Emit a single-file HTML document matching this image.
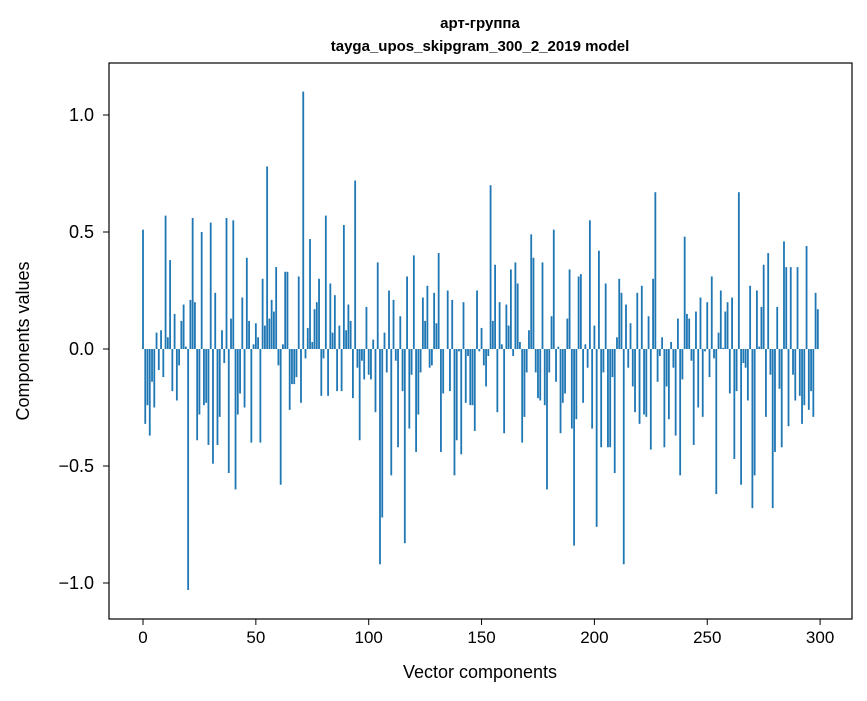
<!DOCTYPE html>
<html><head><meta charset="utf-8"><style>
body{margin:0;background:#fff;}
svg text{font-family:"Liberation Sans","DejaVu Sans",sans-serif;fill:#000;}
</style></head><body>
<svg id="chart" width="867" height="696" xmlns="http://www.w3.org/2000/svg">
<rect width="867" height="696" fill="#fff"/>
<text x="480" y="28" text-anchor="middle" font-size="15" font-weight="bold">арт-группа</text>
<text x="480" y="51" text-anchor="middle" font-size="15" font-weight="bold">tayga_upos_skipgram_300_2_2019 model</text>
<g id="bars"></g>
<g id="axes"></g>
<rect x="109" y="63" width="743" height="556" fill="none" stroke="#000" stroke-width="1.2"/>
<text x="480" y="678" text-anchor="middle" font-size="18">Vector components</text>
<text x="0" y="0" transform="translate(29,341) rotate(-90)" text-anchor="middle" font-size="18">Components values</text>
</svg>
<script>
const componentValues = [0.51,-0.32,-0.24,-0.37,-0.14,-0.25,0.07,-0.09,0.08,-0.12,0.57,0.05,0.38,-0.18,0.15,-0.22,-0.07,0.12,0.19,0.01,-1.03,0.21,0.56,0.2,-0.39,-0.28,0.5,-0.24,-0.23,-0.41,0.54,-0.49,0.24,-0.41,-0.29,0.08,-0.06,0.56,-0.53,0.13,0.55,-0.6,-0.28,-0.19,0.22,-0.25,0.39,0.12,-0.4,0.02,0.11,0.05,-0.4,0.3,0.1,0.78,0.13,0.21,0.16,0.35,-0.07,-0.58,0.02,0.33,0.33,-0.26,-0.15,-0.15,-0.12,0.31,-0.23,1.1,-0.04,0.09,0.47,0.03,0.17,0.2,0.3,-0.2,-0.04,0.57,-0.2,0.28,0.07,0.23,-0.18,0.1,-0.18,0.53,0.08,0.19,0.12,-0.21,0.72,-0.08,-0.39,-0.05,-0.13,0.18,-0.11,-0.13,0.04,-0.27,0.37,-0.92,-0.72,0.07,-0.1,0.25,-0.54,0.21,-0.05,-0.42,0.14,-0.18,-0.83,0.31,-0.34,-0.11,0.4,-0.44,-0.28,-0.1,0.22,0.12,0.27,-0.08,-0.07,0.24,0.11,0.41,-0.44,-0.19,0.0,0.25,-0.18,0.21,-0.54,-0.39,-0.01,-0.45,0.2,-0.23,-0.03,-0.24,-0.24,-0.35,0.25,-0.01,0.09,-0.07,-0.16,-0.03,0.7,0.12,0.36,-0.27,0.2,0.02,-0.36,0.19,0.1,0.34,-0.03,0.37,0.28,0.03,-0.4,-0.29,-0.1,0.08,0.49,0.39,-0.1,-0.21,-0.22,0.37,-0.24,-0.6,-0.1,0.14,0.51,-0.14,0.01,-0.36,-0.23,-0.19,0.13,0.34,-0.34,-0.84,-0.3,0.31,0.32,-0.23,0.02,-0.08,0.55,-0.34,0.1,-0.76,0.42,-0.42,-0.1,0.28,-0.42,-0.42,-0.12,-0.53,0.05,0.3,0.24,-0.92,0.19,-0.08,0.11,-0.16,-0.27,0.24,-0.32,0.27,-0.28,-0.29,0.14,-0.43,0.3,0.67,-0.14,-0.03,0.05,-0.42,-0.16,-0.3,0.03,-0.08,-0.37,0.13,-0.54,-0.13,0.48,0.15,0.13,-0.05,-0.41,0.16,-0.25,0.22,-0.29,-0.01,0.2,-0.12,0.31,-0.04,-0.62,0.07,0.25,0.005,0.16,0.2,-0.19,0.22,-0.47,-0.18,0.67,-0.58,-0.06,-0.08,-0.22,0.27,-0.68,-0.54,0.25,0.01,0.18,0.36,-0.29,0.41,-0.11,-0.68,-0.44,0.18,-0.17,-0.42,0.46,0.35,-0.33,0.35,-0.11,-0.22,0.35,-0.2,-0.32,-0.24,0.44,-0.26,-0.18,-0.29,0.24,0.17];
const xTicks = [0,50,100,150,200,250,300];
const yTicks = [-1.0,-0.5,0.0,0.5,1.0];
const yTickLabels = ["\u22121.0","\u22120.5","0.0","0.5","1.0"];

const NS = "http://www.w3.org/2000/svg";
const X0 = 143, XS = 2.257, Y0 = 349, YS = 234;
function xScale(v){ return X0 + XS*v; }
function yScale(v){ return Y0 - YS*v; }

const barsG = document.getElementById('bars');
const bw = 0.8*XS;
componentValues.forEach((v,i)=>{
  const r = document.createElementNS(NS,'rect');
  const y1 = yScale(Math.max(v,0)), y2 = yScale(Math.min(v,0));
  r.setAttribute('x', xScale(i)-bw/2);
  r.setAttribute('y', y1);
  r.setAttribute('width', bw);
  r.setAttribute('height', Math.max(y2-y1,0));
  r.setAttribute('fill','#1f77b4');
  
  
  barsG.appendChild(r);
});

const axesG = document.getElementById('axes');
xTicks.forEach(t=>{
  const x = xScale(t);
  const l = document.createElementNS(NS,'line');
  l.setAttribute('x1',x); l.setAttribute('x2',x); l.setAttribute('y1',619); l.setAttribute('y2',625);
  l.setAttribute('stroke','#000');
  
  
  axesG.appendChild(l);
  const tx = document.createElementNS(NS,'text');
  tx.setAttribute('x',x); tx.setAttribute('y',643); tx.setAttribute('text-anchor','middle'); tx.setAttribute('font-size','17');
  tx.textContent = String(t);
  
  
  axesG.appendChild(tx);
});
yTicks.forEach((t,i)=>{
  const y = yScale(t);
  const l = document.createElementNS(NS,'line');
  l.setAttribute('x1',103); l.setAttribute('x2',109); l.setAttribute('y1',y); l.setAttribute('y2',y);
  l.setAttribute('stroke','#000');
  
  
  axesG.appendChild(l);
  const tx = document.createElementNS(NS,'text');
  tx.setAttribute('x',94); tx.setAttribute('y',y+6); tx.setAttribute('text-anchor','end'); tx.setAttribute('font-size','18');
  tx.textContent = yTickLabels[i];
  
  
  axesG.appendChild(tx);
});
</script>
</body></html>
